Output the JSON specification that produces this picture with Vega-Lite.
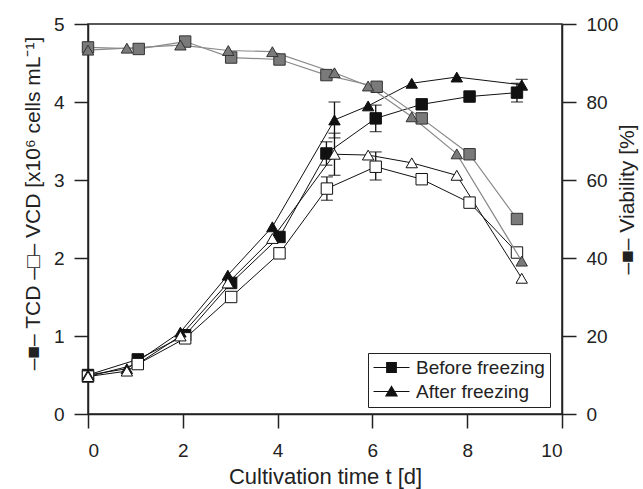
{
  "$schema": "https://vega.github.io/schema/vega-lite/v6.json",
  "width": 474,
  "height": 390,
  "autosize": {"type": "none"},
  "padding": {"left": 88, "top": 24, "right": 81, "bottom": 75},
  "background": "white",
  "config": {
    "font": "Liberation Sans",
    "view": {"stroke": "#222", "strokeWidth": 1.5},
    "axis": {
      "domainColor": "#222", "domainWidth": 1.5,
      "tickColor": "#222", "tickWidth": 1.5, "tickSize": 14,
      "labelColor": "#222", "labelFontSize": 19, "labelFont": "Liberation Sans",
      "titleColor": "#222", "titleFontSize": 21, "titleFont": "Liberation Sans", "titleFontWeight": "normal",
      "grid": false, "labelPadding": 10
    }
  },
  "datasets": {
    "cd": [
      {"t": 0, "value": 0.50, "cond": "Before freezing", "type": "TCD"},
      {"t": 1.05, "value": 0.70, "cond": "Before freezing", "type": "TCD"},
      {"t": 2.05, "value": 1.01, "cond": "Before freezing", "type": "TCD"},
      {"t": 3.02, "value": 1.68, "cond": "Before freezing", "type": "TCD"},
      {"t": 4.04, "value": 2.27, "cond": "Before freezing", "type": "TCD"},
      {"t": 5.03, "value": 3.34, "cond": "Before freezing", "type": "TCD", "lo": 3.19, "hi": 3.49},
      {"t": 6.07, "value": 3.79, "cond": "Before freezing", "type": "TCD", "lo": 3.62, "hi": 3.96},
      {"t": 7.04, "value": 3.97, "cond": "Before freezing", "type": "TCD"},
      {"t": 8.05, "value": 4.07, "cond": "Before freezing", "type": "TCD"},
      {"t": 9.05, "value": 4.12, "cond": "Before freezing", "type": "TCD", "lo": 4.0, "hi": 4.24},
      {"t": 0, "value": 0.50, "cond": "After freezing", "type": "TCD"},
      {"t": 0.82, "value": 0.58, "cond": "After freezing", "type": "TCD"},
      {"t": 1.95, "value": 1.05, "cond": "After freezing", "type": "TCD"},
      {"t": 2.95, "value": 1.78, "cond": "After freezing", "type": "TCD"},
      {"t": 3.89, "value": 2.40, "cond": "After freezing", "type": "TCD"},
      {"t": 5.2, "value": 3.77, "cond": "After freezing", "type": "TCD", "lo": 3.54, "hi": 4.0},
      {"t": 5.91, "value": 3.95, "cond": "After freezing", "type": "TCD"},
      {"t": 6.83, "value": 4.24, "cond": "After freezing", "type": "TCD"},
      {"t": 7.78, "value": 4.32, "cond": "After freezing", "type": "TCD"},
      {"t": 9.15, "value": 4.22, "cond": "After freezing", "type": "TCD", "lo": 4.15, "hi": 4.29},
      {"t": 0, "value": 0.48, "cond": "Before freezing", "type": "VCD"},
      {"t": 1.05, "value": 0.64, "cond": "Before freezing", "type": "VCD"},
      {"t": 2.05, "value": 0.97, "cond": "Before freezing", "type": "VCD"},
      {"t": 3.02, "value": 1.50, "cond": "Before freezing", "type": "VCD"},
      {"t": 4.04, "value": 2.06, "cond": "Before freezing", "type": "VCD"},
      {"t": 5.04, "value": 2.89, "cond": "Before freezing", "type": "VCD", "lo": 2.74, "hi": 3.04},
      {"t": 6.07, "value": 3.17, "cond": "Before freezing", "type": "VCD", "lo": 3.0, "hi": 3.36},
      {"t": 7.04, "value": 3.01, "cond": "Before freezing", "type": "VCD"},
      {"t": 8.05, "value": 2.71, "cond": "Before freezing", "type": "VCD"},
      {"t": 9.05, "value": 2.07, "cond": "Before freezing", "type": "VCD"},
      {"t": 0, "value": 0.48, "cond": "After freezing", "type": "VCD"},
      {"t": 0.82, "value": 0.55, "cond": "After freezing", "type": "VCD"},
      {"t": 1.95, "value": 1.0, "cond": "After freezing", "type": "VCD"},
      {"t": 2.95, "value": 1.68, "cond": "After freezing", "type": "VCD"},
      {"t": 3.89, "value": 2.25, "cond": "After freezing", "type": "VCD"},
      {"t": 5.2, "value": 3.33, "cond": "After freezing", "type": "VCD", "lo": 3.06, "hi": 3.6},
      {"t": 5.91, "value": 3.32, "cond": "After freezing", "type": "VCD"},
      {"t": 6.83, "value": 3.22, "cond": "After freezing", "type": "VCD"},
      {"t": 7.78, "value": 3.06, "cond": "After freezing", "type": "VCD"},
      {"t": 9.15, "value": 1.74, "cond": "After freezing", "type": "VCD"}
    ],
    "via": [
      {"t": 0, "value": 94.0, "cond": "Before freezing"},
      {"t": 1.07, "value": 93.6, "cond": "Before freezing"},
      {"t": 2.05, "value": 95.5, "cond": "Before freezing"},
      {"t": 3.02, "value": 91.4, "cond": "Before freezing"},
      {"t": 4.04, "value": 90.9, "cond": "Before freezing"},
      {"t": 5.03, "value": 86.9, "cond": "Before freezing"},
      {"t": 6.09, "value": 83.9, "cond": "Before freezing"},
      {"t": 7.04, "value": 75.8, "cond": "Before freezing"},
      {"t": 8.05, "value": 66.6, "cond": "Before freezing"},
      {"t": 9.05, "value": 50.0, "cond": "Before freezing"},
      {"t": 0, "value": 93.3, "cond": "After freezing"},
      {"t": 0.82, "value": 93.8, "cond": "After freezing"},
      {"t": 1.95, "value": 94.6, "cond": "After freezing"},
      {"t": 2.96, "value": 93.2, "cond": "After freezing"},
      {"t": 3.89, "value": 92.9, "cond": "After freezing"},
      {"t": 5.2, "value": 87.5, "cond": "After freezing"},
      {"t": 5.91, "value": 84.1, "cond": "After freezing"},
      {"t": 6.83, "value": 76.2, "cond": "After freezing"},
      {"t": 7.78, "value": 66.7, "cond": "After freezing"},
      {"t": 9.15, "value": 39.2, "cond": "After freezing"}
    ]
  },
  "encoding": {
    "x": {
      "field": "t", "type": "quantitative",
      "scale": {"domain": [0, 10], "nice": false, "zero": false},
      "axis": {"values": [0, 2, 4, 6, 8, 10], "title": "Cultivation time t [d]", "titleFontSize": 22, "labelPadding": 13, "titlePadding": 6}
    }
  },
  "layer": [
    {
      "data": {"name": "cd"},
      "encoding": {
        "y": {
          "field": "value", "type": "quantitative",
          "scale": {"domain": [0, 5], "nice": false},
          "axis": {
            "orient": "left", "values": [0, 1, 2, 3, 4, 5],
            "title": "–■– TCD –□– VCD [x10⁶ cells mL⁻¹]",
            "titleAngle": 270, "titleBaseline": "middle", "titleX": -55, "titleY": 179, "titleAlign": "center"
          }
        }
      },
      "layer": [
        {
          "mark": {"type": "line", "color": "#111", "strokeWidth": 1},
          "encoding": {"detail": [{"field": "cond"}, {"field": "type"}]}
        },
        {
          "transform": [{"filter": "isValid(datum.lo)"}],
          "mark": {"type": "rule", "color": "#111", "strokeWidth": 1.3},
          "encoding": {"y": {"field": "lo", "type": "quantitative"}, "y2": {"field": "hi"}}
        },
        {
          "transform": [{"filter": "isValid(datum.lo)"}],
          "mark": {"type": "tick", "orient": "horizontal", "size": 12, "thickness": 1.3, "color": "#111"},
          "encoding": {"y": {"field": "lo", "type": "quantitative"}}
        },
        {
          "transform": [{"filter": "isValid(datum.hi)"}],
          "mark": {"type": "tick", "orient": "horizontal", "size": 12, "thickness": 1.3, "color": "#111"},
          "encoding": {"y": {"field": "hi", "type": "quantitative"}}
        },
        {
          "mark": {"type": "point", "filled": true, "fill": "#111", "stroke": "#111", "strokeWidth": 1.2, "size": 144, "opacity": 0},
          "encoding": {
            "shape": {
              "field": "cond", "type": "nominal",
              "scale": {
                "domain": ["Before freezing", "After freezing"],
                "range": ["M-3,-0.1H3V0.1H-3ZM-0.9,-0.9H0.9V0.9H-0.9Z", "M-3,-0.1H3V0.1H-3ZM0,-1.05L1.1,0.85H-1.1Z"]
              },
              "legend": {
                "title": null, "orient": "none", "legendX": 280, "legendY": 329,
                "strokeColor": "#222", "padding": 5, "fillColor": "white",
                "labelFontSize": 19, "labelColor": "#222", "labelFont": "Liberation Sans",
                "symbolSize": 144, "symbolFillColor": "#111", "symbolStrokeColor": "#111", "symbolStrokeWidth": 1.2,
                "symbolOpacity": 1,
                "symbolOffset": 9, "labelOffset": 15, "rowPadding": 4
              }
            }
          }
        },
        {
          "transform": [{"filter": "datum.cond === 'Before freezing'"}],
          "mark": {"type": "point", "shape": "square", "filled": true, "size": 130, "stroke": "#111", "strokeWidth": 1, "opacity": 1},
          "encoding": {
            "fill": {
              "field": "type", "type": "nominal",
              "scale": {"domain": ["TCD", "VCD"], "range": ["#111", "white"]},
              "legend": null
            }
          }
        },
        {
          "transform": [{"filter": "datum.cond === 'After freezing'"}],
          "mark": {"type": "point", "shape": "triangle-up", "filled": true, "size": 130, "stroke": "#111", "strokeWidth": 1, "opacity": 1},
          "encoding": {
            "fill": {
              "field": "type", "type": "nominal",
              "scale": {"domain": ["TCD", "VCD"], "range": ["#111", "white"]},
              "legend": null
            }
          }
        }
      ]
    },
    {
      "data": {"name": "via"},
      "encoding": {
        "y": {
          "field": "value", "type": "quantitative",
          "scale": {"domain": [0, 100], "nice": false},
          "axis": {
            "orient": "right", "values": [0, 20, 40, 60, 80, 100],
            "title": "–■– Viability [%]",
            "titleAngle": 270, "titleBaseline": "middle", "titleX": 65, "titleY": 175, "titleAlign": "center"
          }
        }
      },
      "layer": [
        {
          "mark": {"type": "line", "color": "#8a8a8a", "strokeWidth": 1.2},
          "encoding": {"detail": {"field": "cond"}}
        },
        {
          "transform": [{"filter": "datum.cond === 'Before freezing'"}],
          "mark": {"type": "point", "shape": "square", "filled": true, "size": 130, "fill": "#7a7a7a", "stroke": "#333", "strokeWidth": 1, "opacity": 1}
        },
        {
          "transform": [{"filter": "datum.cond === 'After freezing'"}],
          "mark": {"type": "point", "shape": "triangle-up", "filled": true, "size": 130, "fill": "#7a7a7a", "stroke": "#333", "strokeWidth": 1, "opacity": 1}
        }
      ]
    }
  ],
  "resolve": {"scale": {"y": "independent"}}
}
